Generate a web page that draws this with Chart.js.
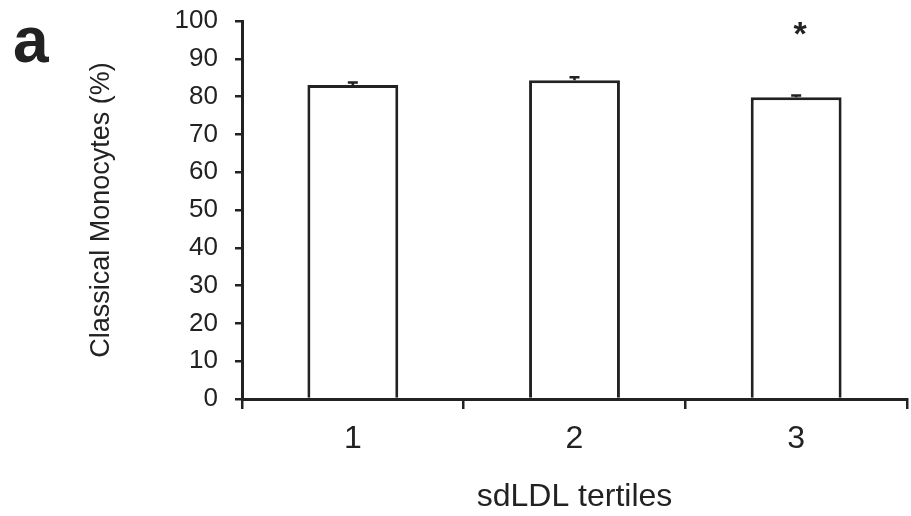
<!DOCTYPE html>
<html>
<head>
<meta charset="utf-8">
<script src="https://cdn.jsdelivr.net/npm/chart.js@4"></script>
<style>
  html, body { margin: 0; padding: 0; background: #fff; }
  #wrap { width: 911px; height: 516px; position: relative; }
  #panel { position: absolute; left: 13px; top: 3px; font: bold 64px "Liberation Sans", Arial, sans-serif; color: #222; }
</style>
</head>
<body>
<div id="wrap">
  <canvas id="chart" width="911" height="516"></canvas>
  <div id="panel">a</div>
</div>
<script>
// Data
const tertiles = ["1", "2", "3"];
const monocytes = [83.1, 84.3, 79.8];
const errors = [0.6, 0.8, 0.5];
const significant = [false, false, true];
const yTicks = [0, 10, 20, 30, 40, 50, 60, 70, 80, 90, 100];

const ink = "#222";

// error bars and the asterisk
const errorBarPlugin = {
    id: "errorBars",
    afterDatasetsDraw(chart) {
        const ctx = chart.ctx;
        const meta = chart.getDatasetMeta(0);
        const y = chart.scales.y;
        ctx.save();
        ctx.strokeStyle = ink;
        ctx.lineWidth = 2.5;
        meta.data.forEach((bar, i) => {
            const top = y.getPixelForValue(monocytes[i] + errors[i]);
            ctx.beginPath();
            ctx.moveTo(bar.x, bar.y);
            ctx.lineTo(bar.x, top);
            ctx.moveTo(bar.x - 5, top);
            ctx.lineTo(bar.x + 5, top);
            ctx.stroke();
            if (significant[i]) {
                ctx.fillStyle = ink;
                ctx.font = "bold 34px 'Liberation Sans', Arial, sans-serif";
                ctx.textAlign = "center";
                ctx.textBaseline = "top";
                ctx.fillText("*", bar.x + 4, 19);
            }
        });
        ctx.restore();
    }
};

const ctx = document.getElementById("chart").getContext("2d");
new Chart(ctx, {
    type: "bar",
    data: {
        labels: tertiles,
        datasets: [{
            data: monocytes,
            backgroundColor: "#fff",
            borderColor: ink,
            borderWidth: 3,
            barPercentage: 0.41,
            categoryPercentage: 1
        }]
    },
    options: {
        responsive: false,
        animation: false,
        layout: { padding: { top: 21, right: 4 } },
        plugins: {
            legend: { display: false },
            tooltip: { enabled: false }
        },
        scales: {
            x: {
                afterFit: s => { s.height = 117; s.paddingLeft = 0; s.paddingRight = 0; },
                border: { display: true, color: ink, width: 3 },
                grid: { drawOnChartArea: false, drawTicks: true, tickLength: 10, color: ink, lineWidth: 2.5, offset: true },
                ticks: { color: ink, padding: 11, font: { family: "Liberation Sans", size: 32 } },
                title: {
                    display: true, text: "sdLDL tertiles", color: ink,
                    font: { family: "Liberation Sans", size: 32 }, padding: { top: 0, bottom: 0 }
                }
            },
            y: {
                min: 0, max: 100,
                afterFit: s => { s.width = 242; s.paddingTop = 0; s.paddingBottom = 0; },
                afterBuildTicks: s => { s.ticks = yTicks.map(v => ({ value: v })); },
                border: { display: true, color: ink, width: 3 },
                grid: { drawOnChartArea: false, drawTicks: true, tickLength: 7, color: ink, lineWidth: 2.5 },
                ticks: { color: ink, padding: 17, font: { family: "Liberation Sans", size: 26 } },
                title: {
                    display: true, text: "Classical Monocytes (%)", color: ink,
                    font: { family: "Liberation Sans", size: 27 }, padding: { top: 85, bottom: 0 }
                }
            }
        }
    },
    plugins: [errorBarPlugin]
});
</script>
</body>
</html>
